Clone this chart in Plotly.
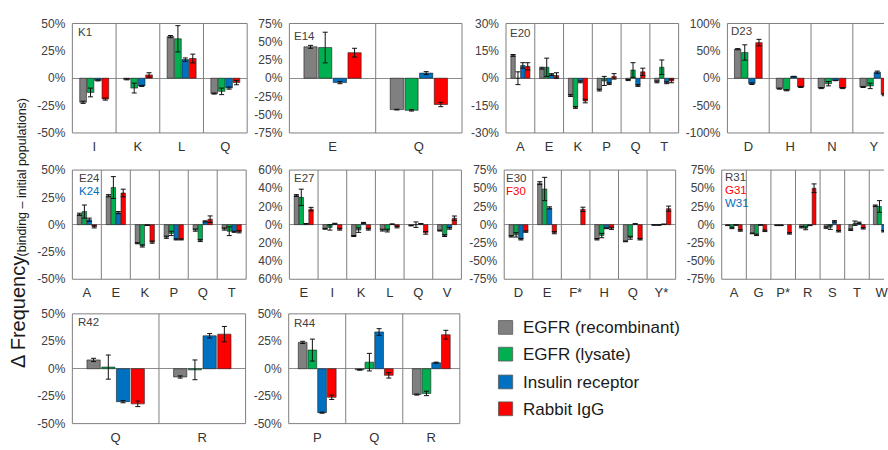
import plotly.graph_objects as go

# ---------------------------------------------------------------------------
# Data: change in residue frequency (binding - initial populations), in %
# Each *_VALS / *_ERRS holds four series in the order of SERIES below.
# ---------------------------------------------------------------------------
SERIES = ["EGFR (recombinant)", "EGFR (lysate)", "Insulin receptor", "Rabbit IgG"]
COLORS = ["#808080", "#00B050", "#0070C0", "#FF0000"]

K1_CATS = ["I", "K", "L", "Q"]
K1_VALS = [[-22, -1, 38, -14], [-13, -9, 36, -12], [-2, -7, 17, -9], [-19, 3, 18, -4]]
K1_ERRS = [[1, 0.5, 1, 0.5], [4, 4.5, 12, 3], [0.5, 0.5, 1.5, 1], [1, 2, 4, 2]]

E14_CATS = ["E", "Q"]
E14_VALS = [[43, -43], [42, -44], [-6, 7], [35, -36]]
E14_ERRS = [[2, 0.5], [21, 1], [1.5, 2], [6, 3]]

E20_CATS = ["A", "E", "K", "P", "Q", "T"]
E20_VALS = [[12.5, 5.5, -9.5, -6.5, -1, -2], [0, 6, -16, -1.5, 4.5, 6],
            [7, 2, -2, -3, -4, -2.5], [6.5, 1.5, -12.5, 1, 3.5, -1.5]]
E20_ERRS = [[0.5, 0.5, 0.5, 0.5, 0.3, 0.5], [3.5, 5, 0.5, 2.5, 4, 4],
            [1.5, 0.5, 0.5, 0.5, 0.5, 0.5], [2, 1.5, 1, 1.5, 2, 1]]

D23_CATS = ["D", "H", "N", "Y"]
D23_VALS = [[53, -19, -18, -16], [47, -22, -10, -14], [-10, 3, -4, 11], [65, -16, -18, -30]]
D23_ERRS = [[1, 1, 1, 1], [14, 1, 4, 5], [1.5, 0.5, 0.5, 2], [6, 1, 1, 2]]

E24_CATS = ["A", "E", "K", "P", "Q", "T"]
E24_VALS = [[9.5, 26.5, -17, -11.5, -5, -4], [12, 34, -19.5, -8, -14.5, -6],
            [4.5, 11, -0.5, -13.5, 3, -6.5], [-2, 29, -16, -13.5, 5, -6.5]]
E24_ERRS = [[1, 1, 0.5, 1, 1, 1], [6, 10, 1, 2, 1, 4],
            [1.5, 1, 0.3, 0.5, 0.5, 0.5], [1, 3.5, 1, 0.5, 3, 1]]

E27_CATS = ["E", "I", "K", "L", "Q", "V"]
E27_VALS = [[32, -4.5, -12.5, -6, -1, -6.5], [30, -3, -6, -6.5, 0, -12],
            [1, 1, 2, 0.5, 1, -4], [17, -5, -5, -2.5, -9, 7]]
E27_ERRS = [[1, 0.5, 0.5, 1, 0.3, 0.5], [9, 3, 2.5, 1.5, 3, 1],
            [0.3, 0.5, 0.5, 0.3, 0.3, 1], [2, 1, 1, 1, 1.5, 2.5]]

E30_CATS = ["D", "E", "F*", "H", "Q", "Y*"]
E30_VALS = [[-16, 57, None, -20, -23, -0.5], [-14, 49, None, -15, -18, -0.5],
            [-20, 23, None, -5, 1, 0.5], [-9.5, -11, 21, -5, -20, 22]]
E30_ERRS = [[1, 2, 0, 1, 0.5, 0.3], [3, 16, 0, 3, 2, 0.3],
            [1, 1.5, 0, 0.5, 0.3, 0.3], [1, 1.5, 3, 1.5, 1, 3.5]]

R31_CATS = ["A", "G", "P*", "R", "S", "T", "W"]
R31_VALS = [[-1, -12, -1, -3.5, -4, -7, 26], [-4.5, -14, -1, -5, -3.5, 2, 25],
            [-0.5, -0.5, None, -1, 4.5, 2.5, -9], [-8, -8.5, -12, 50, -9, -5, None]]
R31_ERRS = [[0.3, 0.5, 0.3, 1, 1, 1, 1], [1, 1, 0.3, 2, 3, 3, 8],
            [0.3, 0.3, 0, 0.3, 1, 1, 1], [1, 1, 1, 6, 1, 1, 0]]

R42_CATS = ["Q", "R"]
R42_VALS = [[8, -7.5], [1.5, -1], [-30, 30], [-32, 31.5]]
R42_ERRS = [[1.5, 1], [11, 9], [1, 2], [2.5, 7]]

R44_CATS = ["P", "Q", "R"]
R44_VALS = [[24, -1, -23.5], [17, 6, -22.5], [-40, 33.5, 5.5], [-26, -6, 31]]
R44_ERRS = [[1, 0.3, 0.5], [10, 8, 2], [0.5, 3, 0.5], [2, 2.5, 4]]

# ---------------------------------------------------------------------------
# Page geometry (pixels) and panel placement
# ---------------------------------------------------------------------------
W, H = 888, 450
ROWS = [(17, 130), (168.3, 281), (316.7, 430)]

DARK = "#404040"
GRID = "#7f7f7f"
BLUE_TXT = "#0070C0"
RED_TXT = "#FF0000"
FONT = "Liberation Sans, Arial, sans-serif"

# (cats, vals, errs, row, left px, category width px, y half-range, tick step,
#  unsigned tick labels, label lines [(text, color, x px, y px)])
PANELS = [
    (K1_CATS, K1_VALS, K1_ERRS, 0, 72.7, 43.9, 50, 25, False, [("K1", DARK, 76, 26)]),
    (E14_CATS, E14_VALS, E14_ERRS, 0, 290.7, 86.7, 75, 25, False, [("E14", DARK, 293, 29.5)]),
    (E20_CATS, E20_VALS, E20_ERRS, 0, 508.3, 28.9, 30, 15, False, [("E20", DARK, 510.5, 26.5)]),
    (D23_CATS, D23_VALS, D23_ERRS, 0, 730.7, 42.0, 100, 50, False, [("D23", DARK, 732.5, 24.5)]),
    (E24_CATS, E24_VALS, E24_ERRS, 1, 72.7, 29.1, 50, 25, False,
     [("E24", DARK, 77, 176.5), ("K24", BLUE_TXT, 77, 190)]),
    (E27_CATS, E27_VALS, E27_ERRS, 1, 290.7, 28.8, 60, 20, True, [("E27", DARK, 293, 176.7)]),
    (E30_CATS, E30_VALS, E30_ERRS, 1, 506.5, 28.7, 75, 25, False,
     [("E30", DARK, 506, 176), ("F30", RED_TXT, 506, 189.5)]),
    (R31_CATS, R31_VALS, R31_ERRS, 1, 725.0, 24.7, 75, 25, False,
     [("R31", DARK, 726, 175), ("G31", RED_TXT, 726, 188.5), ("W31", BLUE_TXT, 726, 202)]),
    (R42_CATS, R42_VALS, R42_ERRS, 2, 72.7, 87.0, 50, 25, False, [("R42", DARK, 76, 324.7)]),
    (R44_CATS, R44_VALS, R44_ERRS, 2, 290.0, 57.3, 50, 25, False, [("R44", DARK, 293, 326.2)]),
]


def px_x(v):
    return v / W


def px_y(v):
    return 1 - v / H


fig = go.Figure()
shapes = []
annotations = []
layout_axes = {}

for i, (cats, vals, errs, row, left, cw, yr, step, unsigned, labels) in enumerate(PANELS, start=1):
    sfx = "" if i == 1 else str(i)
    xname, yname = "x" + sfx, "y" + sfx
    top, bottom = ROWS[row]
    full_right = left + cw * len(cats)
    right = min(full_right, W)
    cut = full_right > W
    x_end = -0.5 + (right - left) / cw

    for s in range(4):
        fig.add_trace(go.Bar(
            x=cats, y=vals[s], name=SERIES[s], xaxis=xname, yaxis=yname,
            marker=dict(color=COLORS[s], line=dict(color="rgba(30,30,30,0.75)", width=0.8)),
            error_y=dict(type="data", array=errs[s], visible=True,
                         color="#111111", thickness=1, width=2.5),
            showlegend=False,
        ))

    ticks = list(range(-yr, yr + 1, step))
    ticktext = [f"{abs(t) if unsigned else t}%" for t in ticks]

    layout_axes["xaxis" + sfx] = dict(
        domain=[px_x(left), px_x(right)], anchor=yname, type="category",
        range=[-0.5, x_end], showgrid=False, zeroline=False, showline=False,
        ticks="", ticklabelstandoff=4,
        tickfont=dict(size=13, color="#333333", family=FONT), fixedrange=True,
    )
    layout_axes["yaxis" + sfx] = dict(
        domain=[px_y(bottom), px_y(top)], anchor=xname,
        range=[-yr, yr], tickvals=ticks, ticktext=ticktext,
        showgrid=False, zeroline=True, zerolinecolor="#8c8c8c", zerolinewidth=1,
        showline=False, ticks="", ticklabelstandoff=6,
        tickfont=dict(size=12, color=DARK, family=FONT), fixedrange=True,
    )

    xd, yd = xname + " domain", yname + " domain"
    line = dict(color=GRID, width=1)
    if cut:
        shapes.append(dict(type="line", xref=xd, yref=yd, x0=0, x1=1, y0=1, y1=1, line=line))
        shapes.append(dict(type="line", xref=xd, yref=yd, x0=0, x1=1, y0=0, y1=0, line=line))
        shapes.append(dict(type="line", xref=xd, yref=yd, x0=0, x1=0, y0=0, y1=1, line=line))
    else:
        shapes.append(dict(type="rect", xref=xd, yref=yd, x0=0, x1=1, y0=0, y1=1, line=line))
    for k in range(len(cats) - 1):
        if k + 0.5 < x_end:
            shapes.append(dict(type="line", xref=xname, yref=yd, x0=k + 0.5, x1=k + 0.5,
                               y0=0, y1=1, line=line))

    for text, color, lx, ly in labels:
        annotations.append(dict(
            text=text, xref="paper", yref="paper", x=px_x(lx), y=px_y(ly),
            xanchor="left", yanchor="middle", showarrow=False,
            font=dict(size=11.5, color=color, family=FONT),
        ))

# Legend drawn as swatches and labels
LEGEND_ROWS = [330.7, 358.3, 387.0, 414.7]
for s, cy in enumerate(LEGEND_ROWS):
    shapes.append(dict(type="rect", xref="paper", yref="paper",
                       x0=px_x(500.7), x1=px_x(515), y0=px_y(cy + 7.1), y1=px_y(cy - 7.1),
                       fillcolor=COLORS[s], line=dict(color="#5a5a5a", width=0.8)))
    annotations.append(dict(
        text=SERIES[s], xref="paper", yref="paper", x=px_x(523), y=px_y(cy + 0.5),
        xanchor="left", yanchor="middle", showarrow=False,
        font=dict(size=17, color="#1a1a1a", family=FONT),
    ))

# Shared y-axis title: large label followed by the smaller explanation
annotations.append(dict(
    text="Δ Frequency", xref="paper", yref="paper", x=px_x(18), y=px_y(315),
    xanchor="center", yanchor="middle", textangle=-90, showarrow=False,
    font=dict(size=20, color="#1a1a1a", family=FONT),
))
annotations.append(dict(
    text="(binding – initial populations)", xref="paper", yref="paper",
    x=px_x(22), y=px_y(176), xanchor="center", yanchor="middle", textangle=-90,
    showarrow=False, font=dict(size=12.5, color="#1a1a1a", family=FONT),
))

fig.update_layout(
    width=W, height=H, margin=dict(l=0, r=0, t=0, b=0),
    paper_bgcolor="white", plot_bgcolor="white",
    barmode="group", bargap=0.32, bargroupgap=0.1,
    shapes=shapes, annotations=annotations,
    font=dict(family=FONT),
    **layout_axes,
)

fig.write_html("out.html")
